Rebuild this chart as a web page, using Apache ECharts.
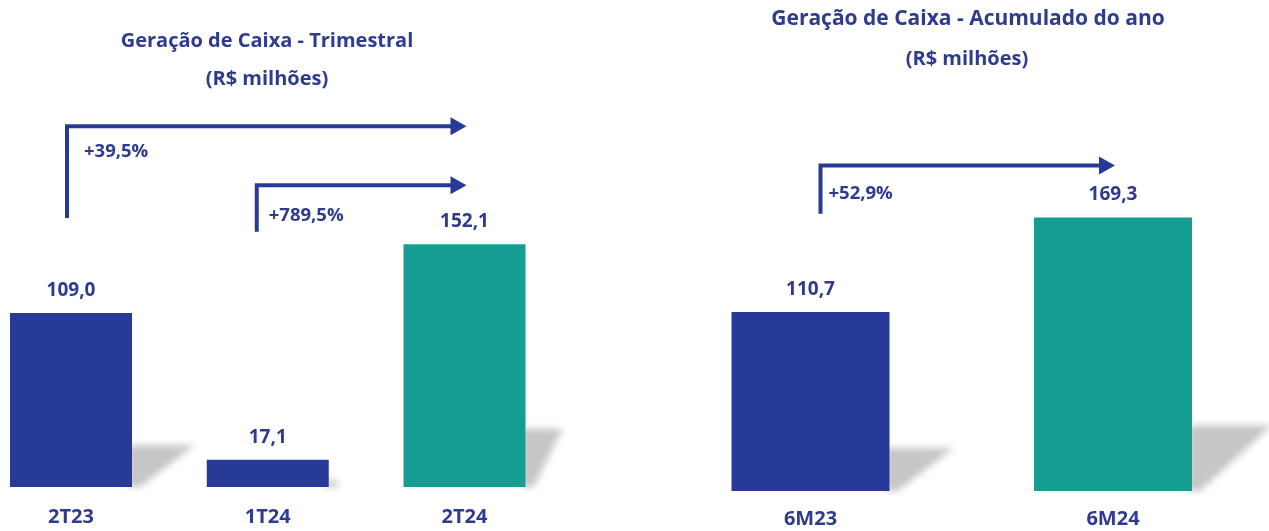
<!DOCTYPE html>
<html>
<head>
<meta charset="utf-8">
<script src="https://cdn.jsdelivr.net/npm/echarts@6/dist/echarts.min.js"></script>
<style>
  html, body { margin: 0; padding: 0; background: #fff; }
  #container { width: 1269px; height: 531px; }
</style>
</head>
<body>
<div id="container"></div>
<script>
// dados do gráfico
var catTri = ['2T23', '1T24', '2T24'];
var valTri = [109.0, 17.1, 152.1];
var catAno = ['6M23', '6M24'];
var valAno = [110.7, 169.3];
// variações: [de, para, rótulo]
var varTri = [[0, 2, '+39,5%'], [1, 2, '+789,5%']];
var varAno = [[0, 1, '+52,9%']];

var AZUL = '#283a97', VERDE = '#179e92', TXT = '#2e3b8f';
var FONT = 'Open Sans';

function fmt(v){ return v.toFixed(1).replace('.', ','); }

// sombra cinza atrás da base de cada barra (desenhada fora da tela, só a sombra aparece)
var OFF = 3000;
function shadowRender(barW, reach){
	return function(params, api){
		var i = api.value(0), v = api.value(1);
		var base = api.coord([i, 0]), top = api.coord([i, v]);
		var h = (base[1] - top[1]) * 0.24;
		var x0 = base[0] + barW / 2 - OFF;
		var w = Math.min(h * 1.5, reach[params.dataIndex]);
		return {
			type: 'polygon',
			shape: { points: [[x0 - 4, base[1] - h], [x0 + w, base[1] - h], [x0 + 8, base[1]], [x0 - 4, base[1]]] },
			style: { fill: '#c6c6c6', shadowBlur: 7, shadowColor: '#c6c6c6', shadowOffsetX: OFF }
		};
	};
}

// seta de variação: nível e base em unidades do eixo
function arrowRender(list, layout){
	return function(params, api){
		var k = params.dataIndex, a = list[k], L = layout[k];
		var p0 = api.coord([a[0], L.bottom]);
		var pl = api.coord([a[0], L.level]);
		var p1 = api.coord([a[1], L.level]);
		var x0 = p0[0] + L.dx0, x1 = p1[0] + 2, y = pl[1];
		return {
			type: 'group',
			children: [
				{ type: 'polyline', shape: { points: [[x0, p0[1]], [x0, y], [x1 - 14, y]] },
				  style: { stroke: AZUL, lineWidth: 4, fill: null } },
				{ type: 'polygon', shape: { points: [[x1 - 16, y - 9], [x1, y], [x1 - 16, y + 9]] },
				  style: { fill: AZUL } },
				{ type: 'text', x: x0 + L.tx, y: y + L.ty,
				  style: { text: a[2], fill: TXT, fontFamily: FONT, fontWeight: 'bold', fontSize: 18.5,
				           verticalAlign: 'middle' } }
			]
		};
	};
}

var layTri = [{ level: 226, bottom: 168.5, dx0: -4, tx: 17, ty: 25 },
              { level: 189, bottom: 160, dx0: -11, tx: 12, ty: 30 }];
var layAno = [{ level: 201.5, bottom: 171.5, dx0: 10, tx: 8, ty: 28 }];

function xAx(idx, cats, margin){
	return {
		type: 'category', gridIndex: idx, data: cats, boundaryGap: false,
		axisLine: { show: false }, axisTick: { show: false }, splitLine: { show: false },
		axisLabel: { margin: margin, color: TXT, fontFamily: FONT, fontWeight: 'bold', fontSize: 20 }
	};
}
function yAx(idx){
	return { type: 'value', gridIndex: idx, min: 0, max: 250, show: false, splitLine: { show: false } };
}
function barS(idx, vals, colors, w){
	return {
		type: 'bar', xAxisIndex: idx, yAxisIndex: idx, barWidth: w, z: 3,
		data: vals.map(function(v, i){ return { value: v, itemStyle: { color: colors[i] } }; }),
		label: { show: true, position: 'top', distance: 13, formatter: function(p){ return fmt(p.value); },
		         color: TXT, fontFamily: FONT, fontWeight: 'bold', fontSize: 19 }
	};
}
function titulo(text, x, y, size){
	return { text: text, left: x, top: y, textAlign: 'center',
	         textStyle: { color: TXT, fontFamily: FONT, fontWeight: 'bold', fontSize: size } };
}

var opt = {
	animation: false,
	title: [
		titulo('Geração de Caixa - Trimestral', 262, 26, 20),
		titulo('(R$ milhões)', 262, 64, 20),
		titulo('Geração de Caixa - Acumulado do ano', 963, 4, 21),
		titulo('(R$ milhões)', 962, 44, 20)
	],
	grid: [
		{ left: 71, right: 804.5, top: 88, bottom: 44 },
		{ left: 810.5, right: 156, top: 87, bottom: 40 }
	],
	xAxis: [xAx(0, catTri, 20), xAx(1, catAno, 18)],
	yAxis: [yAx(0), yAx(1)],
	series: [
		{ type: 'custom', xAxisIndex: 0, yAxisIndex: 0, z: 1, silent: true,
		  renderItem: shadowRender(122, [63, 12, 37]),
		  data: valTri.map(function(v, i){ return [i, v]; }) },
		{ type: 'custom', xAxisIndex: 1, yAxisIndex: 1, z: 1, silent: true,
		  renderItem: shadowRender(158, [71, 80]),
		  data: valAno.map(function(v, i){ return [i, v]; }) },
		barS(0, valTri, [AZUL, AZUL, VERDE], 122),
		barS(1, valAno, [AZUL, VERDE], 158),
		{ type: 'custom', xAxisIndex: 0, yAxisIndex: 0, z: 4, silent: true,
		  renderItem: arrowRender(varTri, layTri),
		  data: varTri.map(function(a){ return [a[0], 0]; }) },
		{ type: 'custom', xAxisIndex: 1, yAxisIndex: 1, z: 4, silent: true,
		  renderItem: arrowRender(varAno, layAno),
		  data: varAno.map(function(a){ return [a[0], 0]; }) }
	]
};

echarts.init(document.getElementById('container')).setOption(opt);
</script>
</body>
</html>
